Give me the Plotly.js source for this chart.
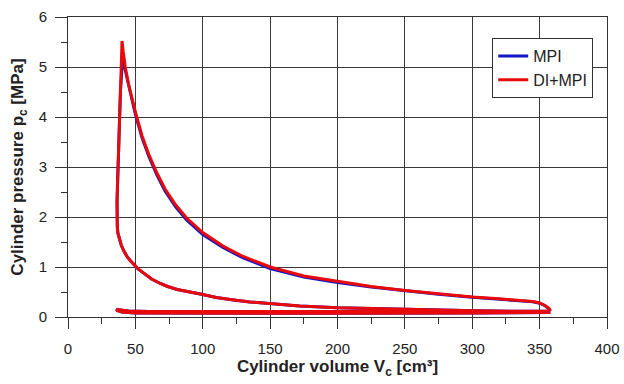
<!DOCTYPE html>
<html>
<head>
<meta charset="utf-8">
<script src="https://cdn.plot.ly/plotly-3.0.1.min.js"></script>
<style>html,body{margin:0;padding:0;background:#fff;}#chart{width:624px;height:384px;}</style>
</head>
<body>
<div id="chart"></div>
<script>
// Gas exchange (exhaust stroke leftwards, then intake stroke rightwards) – shared
var exchangeV = [358, 350, 300, 200, 100, 60, 45, 38, 36, 36.5, 40, 50, 100, 200, 300, 350, 358];
var exchangeP = [0.12, 0.115, 0.11, 0.105, 0.105, 0.11, 0.12, 0.14, 0.15, 0.13, 0.10, 0.08, 0.075, 0.075, 0.08, 0.085, 0.09];

// Compression stroke (shared by both cases)
var compV = [340, 300, 275, 250, 225, 200, 172, 150, 135, 123, 110, 100, 90, 81, 74, 68.5, 62, 56, 52, 50, 48, 46.2, 44, 42.5, 41.3, 39.5, 38, 37];
var compP = [0.105, 0.125, 0.135, 0.15, 0.165, 0.185, 0.22, 0.26, 0.30, 0.34, 0.39, 0.45, 0.50, 0.55, 0.61, 0.67, 0.76, 0.87, 0.96, 1.02, 1.07, 1.13, 1.20, 1.26, 1.33, 1.44, 1.56, 1.68];

// Combustion pressure rise (shared part)
var riseV = [36.6, 36.4, 36.4, 36.7, 37.1, 37.7, 38.3, 38.9];
var riseP = [1.8, 2.0, 2.3, 2.6, 3.0, 3.5, 4.0, 4.5];

// MPI: end of pressure rise + expansion
var mpiV = [40.5, 41.5, 42.5, 45, 47.5, 50, 55, 60, 66, 72, 80, 88, 100, 115, 130, 150, 175, 200, 225, 250, 275, 300, 320, 335, 345, 350, 354, 357, 358];
var mpiP = [5.17, 5.05, 4.93, 4.6, 4.3, 4.05, 3.58, 3.21, 2.84, 2.52, 2.2, 1.94, 1.65, 1.39, 1.18, 0.97, 0.8, 0.69, 0.6, 0.52, 0.455, 0.395, 0.36, 0.335, 0.305, 0.275, 0.225, 0.165, 0.12];

// DI+MPI: end of pressure rise + expansion
var diV = [39.5, 40.1, 41, 42.5, 45, 47.5, 50, 55, 60, 66, 72, 80, 88, 100, 115, 130, 150, 175, 200, 225, 250, 275, 300, 320, 335, 345, 350, 354, 357, 358];
var diP = [5.0, 5.52, 5.3, 5.0, 4.65, 4.35, 4.1, 3.62, 3.25, 2.88, 2.56, 2.24, 1.98, 1.69, 1.42, 1.21, 1.0, 0.82, 0.71, 0.61, 0.53, 0.46, 0.40, 0.365, 0.34, 0.31, 0.28, 0.23, 0.17, 0.12];

var seriesNames = ['MPI', 'DI+MPI'];

function loop(expV, expP) {
  return {
    x: exchangeV.concat(compV, riseV, expV),
    y: exchangeP.concat(compP, riseP, expP)
  };
}
var a = loop(mpiV, mpiP);
var b = loop(diV, diP);

var traces = [
  {x: a.x, y: a.y, mode: 'lines', name: seriesNames[0],
   line: {color: 'rgb(20,20,200)', width: 3}},
  {x: b.x, y: b.y, mode: 'lines', name: seriesNames[1],
   line: {color: 'rgb(232,10,10)', width: 3}}
];

var tickFont = {family: 'Liberation Sans, Arial, sans-serif', size: 15, color: '#222'};
var titleFont = {family: 'Liberation Sans, Arial, sans-serif', size: 17, color: '#222', weight: 'bold'};

var layout = {
  width: 624, height: 384,
  margin: {l: 68, r: 17, t: 17, b: 67},
  paper_bgcolor: '#fff', plot_bgcolor: '#fff',
  showlegend: true,
  legend: {x: 0.787, y: 0.93, xanchor: 'left', yanchor: 'top',
           bgcolor: '#fff', bordercolor: '#333', borderwidth: 1,
           font: {family: 'Liberation Sans, Arial, sans-serif', size: 16, color: '#222'},
           tracegroupgap: 0},
  xaxis: {
    range: [0, 400], dtick: 50, tick0: 0,
    ticks: 'outside', ticklen: 11, tickwidth: 1, tickcolor: '#333',
    ticklabelstandoff: 7,
    showline: true, linecolor: '#333', linewidth: 1, mirror: true,
    showgrid: true, gridcolor: '#3a3a3a', gridwidth: 1, zeroline: false,
    tickfont: tickFont,
    minor: {dtick: 25, ticks: 'outside', ticklen: 6, tickcolor: '#333', showgrid: false},
    title: {text: 'Cylinder volume V<sub>c</sub> [cm³]', font: titleFont, standoff: 4}
  },
  yaxis: {
    range: [0, 6], dtick: 1, tick0: 0,
    ticks: 'outside', ticklen: 12, tickwidth: 1, tickcolor: '#333',
    ticklabelstandoff: 5,
    showline: true, linecolor: '#333', linewidth: 1, mirror: true,
    showgrid: true, gridcolor: '#3a3a3a', gridwidth: 1, zeroline: false,
    tickfont: tickFont,
    minor: {dtick: 0.5, ticks: 'outside', ticklen: 6, tickcolor: '#333', showgrid: false},
    title: {text: 'Cylinder pressure p<sub>c</sub> [MPa]', font: titleFont, standoff: 10}
  }
};

Plotly.newPlot('chart', traces, layout, {staticPlot: true, displayModeBar: false});
</script>
</body>
</html>
